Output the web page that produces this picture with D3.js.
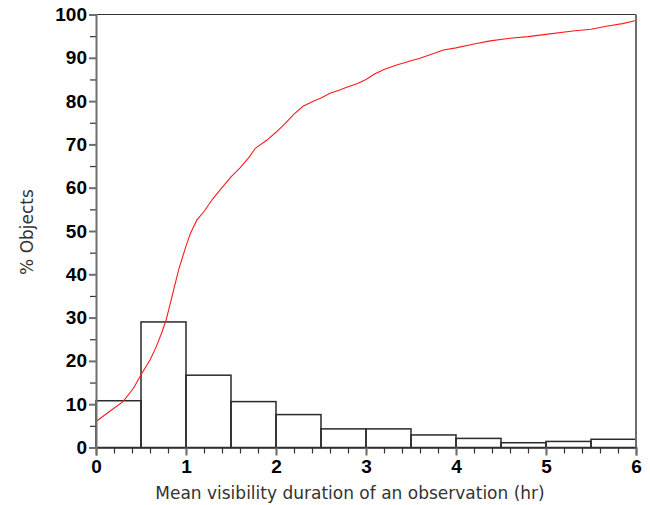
<!DOCTYPE html>
<html>
<head>
<meta charset="utf-8">
<script src="https://cdn.jsdelivr.net/npm/d3@7/dist/d3.min.js"></script>
<style>
  html, body { margin: 0; padding: 0; background: #fff; }
  svg { display: block; }
</style>
</head>
<body>
<svg id="chart" width="650" height="505"></svg>
<script>
// Histogram bins (hours) and percentage of objects per bin
const binStarts = [0, 0.5, 1, 1.5, 2, 2.5, 3, 3.5, 4, 4.5, 5, 5.5];
const binWidth = 0.5;
const binPercent = [10.8, 29.0, 16.7, 10.6, 7.6, 4.3, 4.3, 2.9, 2.1, 1.1, 1.4, 1.9];

// Cumulative distribution (hours, % objects)
const cumHours = [0, 0.15, 0.3, 0.42, 0.5, 0.6, 0.67, 0.73, 0.78, 0.84, 0.92, 1.0, 1.05, 1.12, 1.2, 1.3, 1.4, 1.5, 1.6, 1.7, 1.77, 1.9, 2.0, 2.1, 2.2, 2.3, 2.42, 2.5, 2.6, 2.7, 2.8, 2.9, 3.0, 3.1, 3.2, 3.35, 3.5, 3.6, 3.75, 3.86, 4.0, 4.2, 4.38, 4.6, 4.8, 5.0, 5.3, 5.5, 5.67, 5.85, 6.0];
const cumPercent = [6.0, 8.3, 10.6, 13.8, 16.8, 20.2, 23.3, 26.5, 29.5, 34.5, 41.2, 46.5, 49.5, 52.5, 54.5, 57.5, 60.0, 62.5, 64.6, 67.0, 69.1, 71.0, 72.8, 74.8, 77.0, 78.8, 80.0, 80.7, 81.8, 82.5, 83.3, 84.0, 85.0, 86.3, 87.3, 88.4, 89.3, 89.9, 91.0, 91.8, 92.3, 93.2, 93.9, 94.5, 94.9, 95.4, 96.2, 96.6, 97.3, 97.9, 98.6];

const xTicks = [0, 1, 2, 3, 4, 5, 6];
const yTicks = [0, 10, 20, 30, 40, 50, 60, 70, 80, 90, 100];

const xLabel = "Mean visibility duration of an observation (hr)";
const yLabel = "% Objects";

const svg = d3.select("#chart");
const plotL = 96, plotR = 636, plotT = 14.5, plotB = 447.5;

const x = d3.scaleLinear().domain([0, 6]).range([plotL, plotR]);
const y = d3.scaleLinear().domain([0, 100]).range([plotB, plotT]);

const axisColor = "#6e6e6e";
const tickFont = g => g
  .attr("fill", "#000")
  .style("font-family", "'Liberation Sans', Arial, sans-serif")
  .style("font-weight", "bold")
  .style("font-size", "19px");

// Histogram bars
svg.append("g")
  .selectAll("rect")
  .data(binStarts.map((s, i) => ({ s, v: binPercent[i] })))
  .join("rect")
  .attr("x", d => x(d.s))
  .attr("y", d => y(d.v))
  .attr("width", d => x(d.s + binWidth) - x(d.s))
  .attr("height", d => y(0) - y(d.v))
  .attr("fill", "none")
  .attr("stroke", "#2a2a2a")
  .attr("stroke-width", 1.5);

// Cumulative curve
const line = d3.line()
  .x((d, i) => x(cumHours[i]))
  .y((d, i) => y(cumPercent[i]));
svg.append("path")
  .datum(cumPercent)
  .attr("d", line)
  .attr("fill", "none")
  .attr("stroke", "#ff1a1a")
  .attr("stroke-width", 1.1);

// Frame: top and right edges
svg.append("line")
  .attr("x1", plotL).attr("x2", plotR).attr("y1", plotT).attr("y2", plotT)
  .attr("stroke", "#333").attr("stroke-width", 1.2);
svg.append("line")
  .attr("x1", plotR).attr("x2", plotR).attr("y1", plotT).attr("y2", plotB)
  .attr("stroke", axisColor).attr("stroke-width", 2);

// X axis with major and minor ticks
const xAxis = svg.append("g").attr("transform", `translate(0,${plotB})`);
xAxis.call(d3.axisBottom(x).tickValues(d3.range(0, 6.0001, 0.2)).tickSize(6).tickFormat(""))
  .call(g => g.select(".domain").remove())
  .call(g => g.selectAll(".tick line").attr("stroke", "#333").attr("stroke-width", 1.2));
xAxis.append("g").call(d3.axisBottom(x).tickValues(xTicks).tickSize(8).tickFormat(d3.format("d")))
  .call(g => g.select(".domain").attr("stroke", "#333").attr("stroke-width", 1.4))
  .call(g => g.selectAll(".tick line").attr("stroke", axisColor).attr("stroke-width", 2))
  .call(g => g.selectAll(".tick text").attr("dy", "0.95em").attr("y", 7).call(tickFont));

// Y axis with major and minor ticks
const yAxis = svg.append("g").attr("transform", `translate(${plotL},0)`);
yAxis.call(d3.axisLeft(y).tickValues(d3.range(5, 100, 10)).tickSize(6).tickFormat(""))
  .call(g => g.select(".domain").remove())
  .call(g => g.selectAll(".tick line").attr("stroke", "#333").attr("stroke-width", 1.2));
yAxis.append("g").call(d3.axisLeft(y).tickValues(yTicks).tickSize(7).tickFormat(d3.format("d")))
  .call(g => g.select(".domain").attr("stroke", axisColor).attr("stroke-width", 2))
  .call(g => g.selectAll(".tick line").attr("stroke", axisColor).attr("stroke-width", 2))
  .call(g => g.selectAll(".tick text").attr("x", -9).call(tickFont));

// Axis titles
svg.append("text")
  .attr("x", 350)
  .attr("y", 499)
  .attr("text-anchor", "middle")
  .attr("fill", "#333")
  .style("font-family", "'DejaVu Sans', sans-serif")
  .style("font-size", "17px")
  .text(xLabel);

svg.append("text")
  .attr("transform", "translate(33,232) rotate(-90)")
  .attr("text-anchor", "middle")
  .attr("fill", "#333")
  .style("font-family", "'DejaVu Sans', sans-serif")
  .style("font-size", "17px")
  .text(yLabel);
</script>
</body>
</html>
